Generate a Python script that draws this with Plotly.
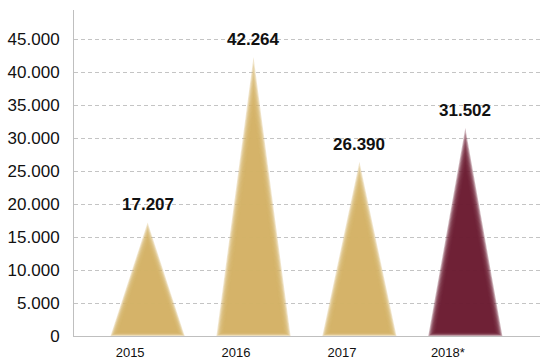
import plotly.graph_objects as go

# Annual totals
years = ["2015", "2016", "2017", "2018*"]
totals = [17207, 42264, 26390, 31502]
fill_colors = [(214, 178, 102), (214, 178, 102), (214, 178, 102), (110, 29, 52)]

y_ticks = [0, 5000, 10000, 15000, 20000, 25000, 30000, 35000, 40000, 45000]


def fmt(v):
    return f"{v:,}".replace(",", ".")


fig = go.Figure()

# Soft-edged triangular peaks: nested layers, each a little smaller and
# semi-transparent, so the edges and tip fade out.
LAYERS = 10
ALPHA = 0.33
SHIFT = 0.165      # peak centre sits right of the category tick
HALF_W = 0.35      # half base width, in category units
for i, (v, rgb) in enumerate(zip(totals, fill_colors)):
    cx = i + SHIFT
    for k in range(LAYERS):
        f = k / (LAYERS - 1)
        hw = HALF_W - f * 0.075
        base = f * 650
        top = v - f * 0.2 * v
        fig.add_trace(go.Scatter(
            x=[cx - hw, cx, cx + hw, cx - hw],
            y=[base, top, base, base],
            mode="lines",
            fill="toself",
            fillcolor=f"rgba({rgb[0]},{rgb[1]},{rgb[2]},{ALPHA})",
            line=dict(width=0),
            hoverinfo="skip",
            showlegend=False,
        ))
    fig.add_annotation(
        x=cx, y=v, text=f"<b>{fmt(v)}</b>",
        showarrow=False, yanchor="bottom", yshift=6,
        font=dict(family="Liberation Sans, Arial, sans-serif", size=17, color="#111111"),
    )

fig.update_layout(
    width=540, height=359,
    margin=dict(l=74, r=0, t=10, b=23),
    paper_bgcolor="white", plot_bgcolor="white",
    showlegend=False,
    font=dict(family="Liberation Sans, Arial, sans-serif", color="#111111"),
)
fig.update_xaxes(
    range=[-0.53, 3.87],
    tickvals=list(range(len(years))), ticktext=years,
    showgrid=False, zeroline=False,
    showline=True, linecolor="#BFBFBF", linewidth=1,
    ticks="", ticklabelstandoff=4,
    tickfont=dict(size=13),
)
fig.update_yaxes(
    range=[0, 49400],
    tickvals=y_ticks, ticktext=[fmt(t) for t in y_ticks],
    showgrid=True, gridcolor="#C4C4C4", gridwidth=1, griddash="4px,3px",
    zeroline=False,
    showline=True, linecolor="#BFBFBF", linewidth=1,
    ticks="", ticklabelstandoff=10,
    tickfont=dict(size=17),
)

fig.write_html("out.html")
